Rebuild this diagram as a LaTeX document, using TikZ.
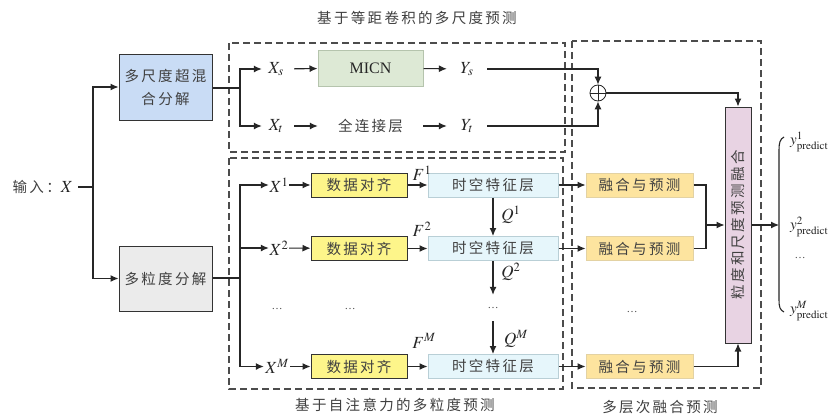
\documentclass[tikz,border=0pt]{standalone}
\usepackage{mathptmx}
\usepackage{fontspec}
\setmainfont{Liberation Serif}
\newfontfamily\cjk[LetterSpace=16]{Noto Sans CJK SC}
\usetikzlibrary{arrows.meta}
\newcommand\cjkt{\cjk\fontsize{14.5}{23}\selectfont}
\newcommand\mlab{\fontsize{17}{20}\selectfont}
\newcommand\ylab{\fontsize{15}{18}\selectfont}
\definecolor{msfill}{HTML}{C9DCF5}
\definecolor{mgfill}{HTML}{EBEBEB}
\definecolor{micnfill}{HTML}{DDE9D5}
\definecolor{micnline}{HTML}{B5C4AD}
\definecolor{dafill}{HTML}{FDF58A}
\definecolor{stfill}{HTML}{E6F6FB}
\definecolor{stline}{HTML}{B9CFD6}
\definecolor{fpfill}{HTML}{FDE49F}
\definecolor{fpline}{HTML}{E3D2A3}
\definecolor{fusfill}{HTML}{E8D3E3}
\begin{document}
\begin{tikzpicture}[x=1pt,y=-1pt]
\tikzset{
  ln/.style={line width=1.1pt, draw=black!85},
  arr/.style={ln, -{Latex[length=8pt,width=7pt]}},
  ct/.style={font=\cjkt, text=black!75},
  box/.style={ct, draw, line width=1pt, minimum height=24pt, inner sep=0pt},
  mnode/.style={font=\mlab, text=black!85, inner sep=0pt, minimum height=20pt},
  dots/.style={font=\fontsize{11}{11}\selectfont, text=black!70, inner sep=0pt},
  dbox/.style={draw=black!70, dash pattern=on 7pt off 4pt, line width=1.2pt},
}
\useasboundingbox (0,0) rectangle (831,415);
\fill[white] (0,0) rectangle (831,415);

% dashed regions
\draw[dbox] (229,43) rectangle (565,152);
\draw[dbox] (229,158) rectangle (563,389);
\draw[dbox] (572,41) rectangle (761,388);
\node[ct] (t1) at (417,18) {基于等距卷积的多尺度预测};
\node[ct] (t2) at (395,405) {基于自注意力的多粒度预测};
\node[ct] (t3) at (660,407) {多层次融合预测};

% input
\node[ct, anchor=east, inner sep=0pt] (in) at (73,187) {输入：{\mlab\color{black!85}$X$}};
\coordinate (j0) at (93,187);
\node[box, fill=msfill, draw=black!80, minimum width=93pt, minimum height=66pt, align=center] (ms) at (165.5,87) {多尺度超混\\合分解};
\node[box, fill=mgfill, draw=black!80, minimum width=93pt, minimum height=65pt] (mg) at (165.5,278.5) {多粒度分解};
\draw[ln] ([xshift=5pt]in.east) -- (j0);
\draw[arr] (j0) |- (ms.west);
\draw[arr] (j0) |- (mg.west);

% top branch
\coordinate (j1) at (240,88);
\node[mnode, minimum width=28pt] (Xs) at (276,69) {$X_s$};
\node[mnode, minimum width=28pt] (Xt) at (276,126) {$X_t$};
\node[box, fill=micnfill, draw=micnline, minimum width=105pt, minimum height=36pt, font=\fontsize{16}{18}\selectfont, text=black!85] (micn) at (370.5,68) {MICN};
\node[ct, minimum width=105pt, minimum height=24pt, inner sep=0pt] (fc) at (370.5,126) {全连接层};
\node[mnode, minimum width=40pt] (Ys) at (467,69) {$Y_s$};
\node[mnode, minimum width=40pt] (Yt) at (467,126) {$Y_t$};
\node[circle, draw=black!85, line width=0.8pt, minimum size=16pt, inner sep=0pt] (plus) at (598,93) {};
\draw[line width=0.8pt, black!85] (plus.north) -- (plus.south) (plus.west) -- (plus.east);
\draw[ln] (ms.east |- j1) -- (j1);
\draw[arr] (j1) |- (Xs.west);
\draw[arr] (j1) |- (Xt.west);
\draw[arr, shorten <=4pt] (Xs) -- (micn);
\draw[arr, shorten <=4pt] (Xt) -- (fc);
\draw[arr] (micn) -- (Ys);
\draw[arr] (fc) -- (Yt);
\draw[arr] (Ys.east) -| (plus.north);
\draw[arr] (Yt.east) -| (plus.south);

% fusion box
\node[draw=black!80, line width=1pt, fill=fusfill, minimum width=26pt, minimum height=236pt, inner sep=0pt] (fus) at (738,225) {};
\node[ct, rotate=90] (fustext) at (fus.center) {粒度和尺度预测融合};
\draw[arr] (plus.east) -| (fus.north);

% bottom branch
\coordinate (j2) at (240,278);
\node[mnode, minimum width=20pt] (X1) at (279,185) {$X^1$};
\node[mnode, minimum width=20pt] (X2) at (279,248) {$X^2$};
\node[mnode, minimum width=26pt] (XM) at (277,366.5) {$X^M$};
\draw[ln] (mg.east |- j2) -- (j2);
\draw[arr] (j2) |- (X1.west);
\draw[arr] (j2) |- (X2.west);
\draw[arr] (j2) |- (XM.west);

\node[box, fill=dafill, draw=black!80, minimum width=96pt] (da1) at (359,185) {数据对齐};
\node[box, fill=dafill, draw=black!80, minimum width=96pt] (da2) at (359,248.5) {数据对齐};
\node[box, fill=dafill, draw=black!80, minimum width=96pt] (daM) at (359,366.5) {数据对齐};
\node[box, fill=stfill, draw=stline, minimum width=130pt] (st1) at (493,185) {时空特征层};
\node[box, fill=stfill, draw=stline, minimum width=130pt] (st2) at (493,248.5) {时空特征层};
\node[box, fill=stfill, draw=stline, minimum width=130pt] (stM) at (493,366.5) {时空特征层};
\node[box, fill=fpfill, draw=fpline, minimum width=107pt] (fp1) at (639.5,185) {融合与预测};
\node[box, fill=fpfill, draw=fpline, minimum width=107pt] (fp2) at (639.5,248.5) {融合与预测};
\node[box, fill=fpfill, draw=fpline, minimum width=107pt] (fpM) at (639.5,366.5) {融合与预测};

\foreach \r in {1,2,M}{
  \draw[arr] (X\r) -- (da\r);
  \draw[arr] (da\r) -- (st\r);
  \draw[arr] (st\r) -- (fp\r);
}
\node[mnode] (F1) at (422,173) {$F^1$};
\node[mnode] (F2) at (422,229) {$F^2$};
\node[mnode] (FM) at (424,341) {$F^M$};

\node[dots, minimum height=26pt] (dq) at (493,308) {\dots};
\draw[arr] (st1) -- (st2);
\draw[arr] (st2) -- (dq);
\draw[arr] (dq) -- (stM);
\node[mnode] (Q1) at (511,215) {$Q^1$};
\node[mnode] (Q2) at (511,272) {$Q^2$};
\node[mnode] (QM) at (516,339) {$Q^M$};

\node[dots] (d1) at (277,309) {\dots};
\node[dots] (d2) at (350,309) {\dots};
\node[dots] (d4) at (632,312) {\dots};

% merge into fusion box
\coordinate (j3) at (706,225);
\draw[ln] (fp1.east) -| (j3);
\draw[ln] (fp2.east) -| (j3);
\draw[arr] (j3) -- (j3 -| fus.west);
\draw[arr] (fpM.east) -| (fus.south);

% outputs
\coordinate (br) at (779,225);
\draw[arr] (fus.east |- br) -- (br);
\draw[ln] (784,137) .. controls (780,139) and (779,143) .. (779,150) -- (779,300) .. controls (779,307) and (780,310) .. (784,312);
\node[anchor=west, font=\ylab, text=black!85, inner sep=0pt] (y1) at (790,142) {$y^{1}_{\mathrm{predict}}$};
\node[anchor=west, font=\ylab, text=black!85, inner sep=0pt] (y2) at (790,227) {$y^{2}_{\mathrm{predict}}$};
\node[dots] (d5) at (800,258) {\dots};
\node[anchor=west, font=\ylab, text=black!85, inner sep=0pt] (yM) at (790,311) {$y^{M}_{\mathrm{predict}}$};
\end{tikzpicture}
\end{document}
